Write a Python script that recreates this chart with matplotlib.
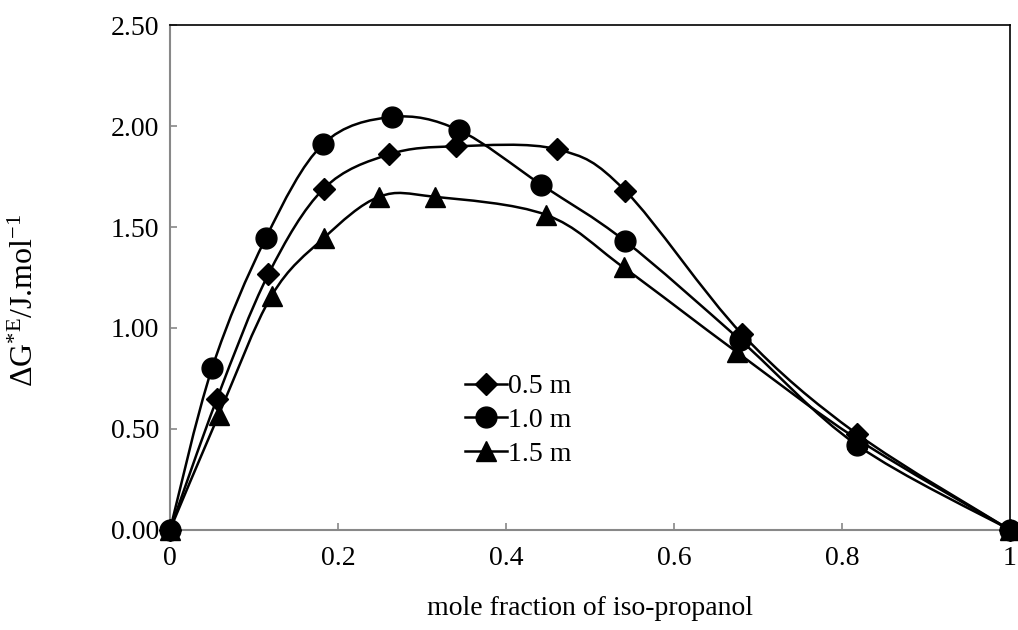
import numpy as np
import matplotlib.pyplot as plt
from matplotlib.path import Path
from matplotlib.patches import PathPatch

plt.rcParams["font.family"] = ["Liberation Serif", "DejaVu Serif"]
plt.rcParams["mathtext.fontset"] = "custom"
plt.rcParams["mathtext.rm"] = "Liberation Serif"
plt.rcParams["mathtext.it"] = "Liberation Serif:italic"

# mole fraction of iso-propanol / excess Gibbs energy
x_05 = [0, 0.056, 0.117, 0.183, 0.261, 0.341, 0.461, 0.542, 0.681, 0.818, 1.0]
y_05 = [0, 0.65, 1.265, 1.69, 1.86, 1.90, 1.885, 1.68, 0.97, 0.475, 0]
x_10 = [0, 0.050, 0.114, 0.182, 0.264, 0.344, 0.442, 0.542, 0.679, 0.818, 1.0]
y_10 = [0, 0.80, 1.445, 1.91, 2.045, 1.98, 1.71, 1.43, 0.94, 0.42, 0]
x_15 = [0, 0.058, 0.121, 0.183, 0.249, 0.315, 0.448, 0.540, 0.675, 0.818, 1.0]
y_15 = [0, 0.57, 1.16, 1.445, 1.65, 1.65, 1.56, 1.30, 0.88, 0.45, 0]

labels = ["0.5 m", "1.0 m", "1.5 m"]
markers = ["D", "o", "^"]
msizes = [11, 15, 15]

x_ticks = [0, 0.2, 0.4, 0.6, 0.8, 1]
x_ticklabels = ["0", "0.2", "0.4", "0.6", "0.8", "1"]
y_ticks = [0, 0.5, 1.0, 1.5, 2.0, 2.5]


def smooth_path(x, y):
    # Excel-style smoothed line: cubic bezier through every point
    x = np.asarray(x, float)
    y = np.asarray(y, float)
    n = len(x)
    verts = [(x[0], y[0])]
    codes = [Path.MOVETO]
    for i in range(n - 1):
        i0 = max(i - 1, 0)
        i3 = min(i + 2, n - 1)
        c1 = (x[i] + (x[i + 1] - x[i0]) / 6, y[i] + (y[i + 1] - y[i0]) / 6)
        c2 = (x[i + 1] - (x[i3] - x[i]) / 6, y[i + 1] - (y[i3] - y[i]) / 6)
        verts += [c1, c2, (x[i + 1], y[i + 1])]
        codes += [Path.CURVE4] * 3
    return Path(verts, codes)


fig = plt.figure(figsize=(10.18, 6.3), dpi=100)
ax = fig.add_axes([0.167, 0.159, 0.825, 0.801])

series = [(x_05, y_05), (x_10, y_10), (x_15, y_15)]
for (xs, ys), lab, mk, ms in zip(series, labels, markers, msizes):
    ax.add_patch(PathPatch(smooth_path(xs, ys), fill=False, lw=1.8,
                           edgecolor="black", clip_on=False))
    ax.plot(xs, ys, linestyle="none", marker=mk, ms=ms, color="black",
            clip_on=False, zorder=3)
    # legend proxy
    ax.plot([], [], "-", marker=mk, ms=ms, color="black", lw=1.8, label=lab)

ax.set_xlim(0, 1)
ax.set_ylim(0, 2.5)
ax.set_xticks(x_ticks)
ax.set_xticklabels(x_ticklabels)
ax.set_yticks(y_ticks)
ax.set_yticklabels(["%.2f" % v for v in y_ticks])
ax.tick_params(direction="in", length=5, width=1.2, color="#888888",
               labelsize=20)
ax.tick_params(axis="x", pad=12)
ax.tick_params(axis="y", pad=8)

for s in ["left", "bottom"]:
    ax.spines[s].set_color("#888888")
    ax.spines[s].set_linewidth(1.5)
for s in ["top", "right"]:
    ax.spines[s].set_color("black")
    ax.spines[s].set_linewidth(1.2)

ax.set_xlabel("mole fraction of iso-propanol", fontsize=20, labelpad=18)
ax.set_ylabel(r"$\Delta$G$^{\mathrm{*E}}$/J.mol$^{\mathrm{-1}}$", fontsize=23)
ax.yaxis.set_label_coords(-0.155, 0.455)

ax.legend(loc="center", bbox_to_anchor=(0.415, 0.217), frameon=False,
          fontsize=20, handlelength=1.5, handletextpad=0.05, labelspacing=0.3,
          borderpad=0)

fig.savefig("out.png", dpi=100)
